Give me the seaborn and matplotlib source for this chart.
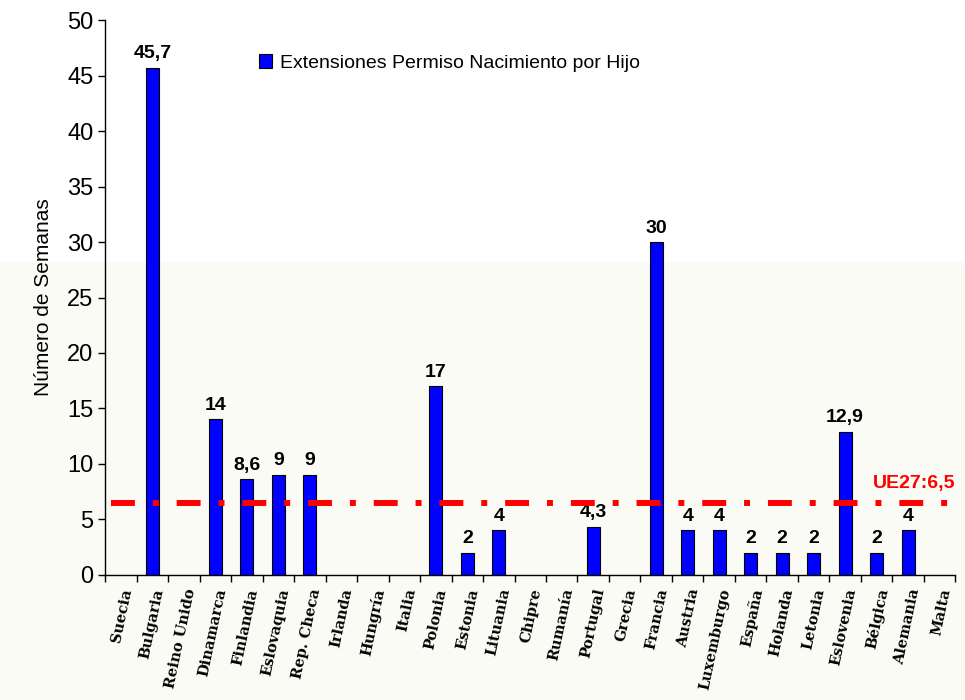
import numpy as np
import pandas as pd
import matplotlib
matplotlib.use("Agg")
import matplotlib.pyplot as plt
import seaborn as sns
from matplotlib.ticker import FixedLocator
from matplotlib.patches import Rectangle, Patch

# Datos
paises = ["Suecia", "Bulgaria", "Reino Unido", "Dinamarca", "Finlandia", "Eslovaquia",
          "Rep. Checa", "Irlanda", "Hungría", "Italia", "Polonia", "Estonia", "Lituania",
          "Chipre", "Rumanía", "Portugal", "Grecia", "Francia", "Austria", "Luxemburgo",
          "España", "Holanda", "Letonia", "Eslovenia", "Bélgica", "Alemania", "Malta"]
semanas = [0, 45.7, 0, 14, 8.6, 9, 9, 0, 0, 0, 17, 2, 4, 0, 0, 4.3, 0, 30, 4, 4,
           2, 2, 2, 12.9, 2, 4, 0]
media_ue27 = 6.5
serie = "Extensiones Permiso Nacimiento por Hijo"

df = pd.DataFrame({"Pais": paises, "Semanas": semanas})

sns.set_style("white")
plt.rcParams["font.family"] = ["Liberation Sans", "DejaVu Sans"]
plt.rcParams.update({"text.color": "black", "axes.labelcolor": "black",
                     "xtick.color": "black", "ytick.color": "black"})

fig = plt.figure(figsize=(9.65, 7), dpi=100)
fig.patches.append(Rectangle((0, 0), 1, 0.626, transform=fig.transFigure,
                             color="#fbfbf5", zorder=-10))
ax = fig.add_axes([0.109, 0.179, 0.881, 0.792])
ax.set_facecolor("none")

sns.barplot(data=df, x="Pais", y="Semanas", color="#0000ff", edgecolor="black",
            linewidth=0.8, width=0.42, saturation=1, ax=ax)
for p, v in zip(ax.containers[0], semanas):
    if v == 0:
        p.set_linewidth(0)

# Etiquetas de valor
etiquetas = [("%g" % v).replace(".", ",") if v > 0 else "" for v in semanas]
ax.bar_label(ax.containers[0], labels=etiquetas, padding=4, fontsize=14,
             fontweight="bold")

# Línea media UE27
ax.axhline(media_ue27, xmin=0.007, xmax=1, color="#ff0000", lw=4.3,
           linestyle=(0, (4, 3, 1, 3)), zorder=5)
ax.text(len(paises) - 0.5, media_ue27 + 1.0, "UE27:6,5", color="#ff0000",
        fontsize=14, fontweight="bold", ha="right", va="bottom")

ax.set_xlim(-0.5, len(paises) - 0.5)
ax.set_ylim(0, 50)
ax.set_yticks(range(0, 51, 5))
ax.tick_params(axis="y", labelsize=17, direction="out", length=5, width=1, left=True)
ax.set_ylabel("Número de Semanas", fontsize=15, labelpad=10)
ax.set_xlabel("")

ax.set_xticks(range(len(paises)))
ax.set_xticklabels(paises, rotation=78, ha="right", va="top", rotation_mode="anchor",
                   fontsize=10.5, fontweight="bold", family="DejaVu Serif")
ax.tick_params(axis="x", which="major", length=0, pad=9)
ax.xaxis.set_minor_locator(FixedLocator(np.arange(-0.5, len(paises), 1)))
ax.tick_params(axis="x", which="minor", length=5, width=1, direction="out", bottom=True)

for s in ["top", "right"]:
    ax.spines[s].set_visible(False)
for s in ["left", "bottom"]:
    ax.spines[s].set_color("black")
    ax.spines[s].set_linewidth(1)

handle = Patch(facecolor="#0000ff", edgecolor="black", linewidth=0.8)
ax.legend([handle], [serie], loc="upper left", bbox_to_anchor=(0.16, 0.97),
          frameon=False, fontsize=14, handlelength=0.7, handleheight=0.7,
          handletextpad=0.4)

fig.savefig("out.png", dpi=100)
